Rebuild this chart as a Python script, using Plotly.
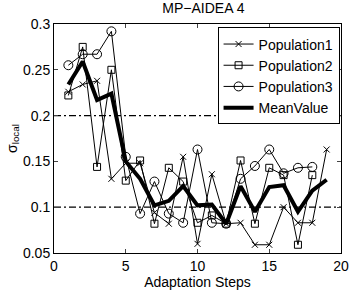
import plotly.graph_objects as go

steps = list(range(1, 20))
steps18 = list(range(1, 19))
pop1 = [0.226, 0.234, 0.238, 0.131, 0.148, 0.148, 0.094, 0.082, 0.155, 0.060,
        0.136, 0.082, 0.083, 0.059, 0.059, 0.100, 0.083, 0.083, 0.163]
pop2 = [0.222, 0.275, 0.144, 0.250, 0.129, 0.151, 0.082, 0.143, 0.128, 0.083,
        0.091, 0.082, 0.151, 0.082, 0.143, 0.135, 0.059, 0.135]
pop3 = [0.255, 0.267, 0.267, 0.292, 0.155, 0.093, 0.128, 0.093, 0.083, 0.163,
        0.083, 0.082, 0.131, 0.145, 0.163, 0.137, 0.143, 0.144]
mean = [0.234, 0.259, 0.217, 0.224, 0.150, 0.131, 0.102, 0.107, 0.123, 0.102,
        0.103, 0.082, 0.123, 0.095, 0.122, 0.124, 0.095, 0.118, 0.130]
ref_levels = [0.2, 0.1]
xticks = [0, 5, 10, 15, 20]
yticks = [0.05, 0.1, 0.15, 0.2, 0.25, 0.3]
ytick_text = ["0.05", "0.1", "0.15", "0.2", "0.25", "0.3"]

FONT = "Liberation Sans, Arial, sans-serif"
fig = go.Figure()

for lv in ref_levels:
    fig.add_trace(go.Scatter(x=[0, 20], y=[lv, lv], mode="lines",
                             line=dict(color="black", width=1.3, dash="7px,3px,2px,3px"),
                             showlegend=False, hoverinfo="skip"))

fig.add_trace(go.Scatter(x=steps, y=pop1, mode="lines+markers", name="Population1",
                         line=dict(color="black", width=1),
                         marker=dict(symbol="x-thin-open", size=6, color="black",
                                     line=dict(color="black", width=1))))
fig.add_trace(go.Scatter(x=steps18, y=pop2, mode="lines+markers", name="Population2",
                         line=dict(color="black", width=1),
                         marker=dict(symbol="square-open", size=7, color="black",
                                     line=dict(color="black", width=1))))
fig.add_trace(go.Scatter(x=steps18, y=pop3, mode="lines+markers", name="Population3",
                         line=dict(color="black", width=1),
                         marker=dict(symbol="circle-open", size=9, color="black",
                                     line=dict(color="black", width=1))))
fig.add_trace(go.Scatter(x=steps, y=mean, mode="lines", name="MeanValue",
                         line=dict(color="black", width=4)))

fig.update_layout(
    width=360, height=296,
    margin=dict(l=53, r=11, t=24, b=37),
    paper_bgcolor="white", plot_bgcolor="white",
    font=dict(family=FONT, size=14, color="black"),
    title=dict(text="MP\u2212AIDEA 4", x=0.565, xanchor="center", y=0.99, yanchor="top",
               font=dict(family=FONT, size=14)),
    showlegend=True,
    legend=dict(x=0.995, y=0.985, xanchor="right", yanchor="top",
                bgcolor="white", bordercolor="black", borderwidth=1,
                font=dict(family=FONT, size=14), tracegroupgap=0,
                itemwidth=30),
    xaxis=dict(range=[0, 20], tickvals=xticks, ticks="inside", ticklen=4,
               showline=True, linecolor="black", linewidth=1, mirror="ticks",
               showgrid=False, zeroline=False, tickfont=dict(size=14),
               title=dict(text="Adaptation Steps", standoff=1, font=dict(size=14))),
    yaxis=dict(range=[0.05, 0.3], tickvals=yticks, ticktext=ytick_text,
               ticks="inside", ticklen=4, tickfont=dict(size=14),
               showline=True, linecolor="black", linewidth=1, mirror="ticks",
               showgrid=False, zeroline=False,
               title=dict(text="\u03c3<sub>local</sub>", standoff=2, font=dict(size=14))),
)

fig.write_html("out.html")
